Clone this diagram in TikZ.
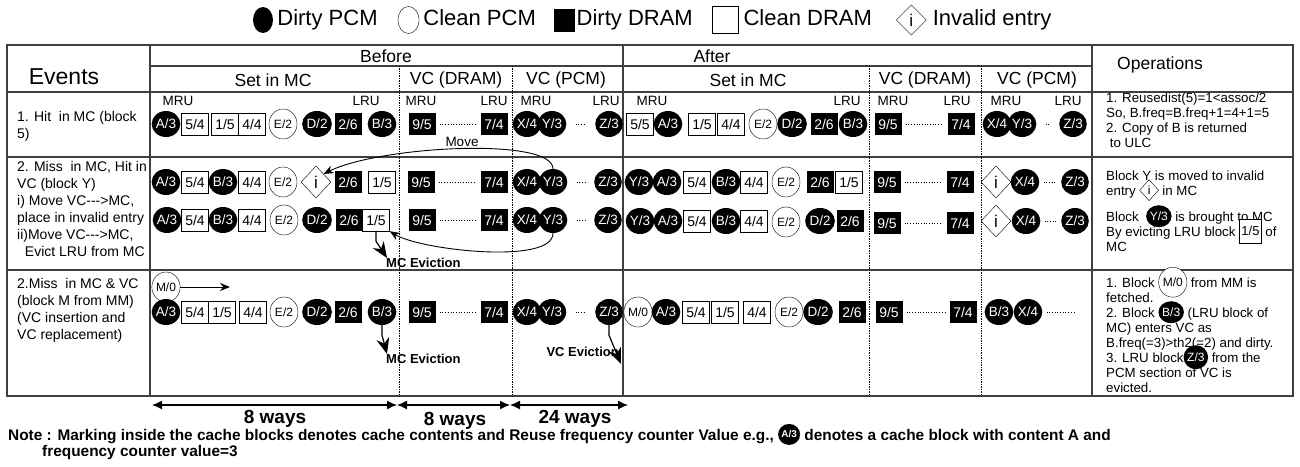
\documentclass[tikz,border=0pt]{standalone}
\usepackage{fontspec}
\setmainfont{Liberation Sans}
\usetikzlibrary{shapes.geometric, arrows.meta, positioning, calc}

\newcommand{\inl}[3]{\smash{\tikz[baseline=-0.8ex]\node[#1, anchor=center] (#2) {#3};}}

\begin{document}
\begin{tikzpicture}[x=1pt, y=-1pt,
        dpcm/.style={ellipse, fill=black, text=white, inner sep=0pt, minimum width=24pt, minimum height=26pt, font=\fontsize{13.5}{14}\selectfont},
        cpcm/.style={ellipse, draw, thin, fill=white, inner sep=0pt, minimum width=28pt, minimum height=30pt, font=\fontsize{12}{14}\selectfont},
        ddram/.style={rectangle, fill=black, text=white, inner sep=0pt, minimum width=27pt, minimum height=22pt, font=\fontsize{14}{16}\selectfont},
        cdram/.style={rectangle, draw, thin, fill=white, inner sep=0pt, minimum width=27pt, minimum height=22pt, font=\fontsize{14}{16}\selectfont},
        inval/.style={diamond, draw, thin, fill=white, inner sep=0pt, minimum width=30pt, minimum height=32pt, font=\fontsize{17}{18}\selectfont},
        legtxt/.style={inner sep=0pt, text height=15pt, text depth=4pt, font=\fontsize{22}{24}\selectfont},
        hdr/.style={inner sep=0pt, font=\fontsize{17.5}{20}\selectfont},
        ru/.style={inner sep=0pt, font=\fontsize{13.5}{15}\selectfont},
        evt/.style={anchor=north west, align=left, inner sep=0pt, font=\fontsize{14}{17}\selectfont},
        ops/.style={anchor=north west, align=left, inner sep=0pt, font=\fontsize{13.3}{15}\selectfont},
        evlab/.style={inner sep=0pt, font=\bfseries\fontsize{13}{15}\selectfont},
        waystxt/.style={inner sep=0pt, font=\bfseries\fontsize{19}{21}\selectfont},
        notetxt/.style={anchor=west, inner sep=0pt, font=\bfseries\fontsize{15.4}{16}\selectfont},
        tline/.style={line width=1.2pt, black!75},
        colsep/.style={densely dotted, line width=0.7pt},
        dots/.style={dotted, line width=0.7pt, shorten <=4pt, shorten >=4pt},
        arrow/.style={-{Stealth[length=10pt, width=8pt]}, line width=0.9pt},
        evict/.style={-{Stealth[length=16pt, width=13pt]}, line width=1.2pt},
        waysarrow/.style={{Latex[length=10pt, width=9pt]}-{Latex[length=10pt, width=9pt]}, line width=1.3pt}
    ]
        \useasboundingbox (0,0) rectangle (1300,466);

        % Legend
        \node[dpcm, minimum width=20pt, minimum height=26pt] (lgdp) at (263,20) {};
        \node[legtxt, right=4pt of lgdp] (lgdpt) {Dirty PCM};
        \node[cpcm, minimum width=21pt, minimum height=27pt, right=20pt of lgdpt] (lgcp) {};
        \node[legtxt, right=4pt of lgcp] (lgcpt) {Clean PCM};
        \node[ddram, minimum width=21pt, minimum height=23pt, right=18pt of lgcpt] (lgdd) {};
        \node[legtxt, right=1pt of lgdd] (lgddt) {Dirty DRAM};
        \node[cdram, minimum width=26pt, minimum height=27pt, right=19pt of lgddt] (lgcd) {};
        \node[legtxt, right=5pt of lgcd] (lgcdt) {Clean DRAM};
        \node[inval, minimum width=30pt, minimum height=30pt, right=24pt of lgcdt] (lginv) {i};
        \node[legtxt, right=6pt of lginv] (lginvt) {Invalid entry};

        % Table
        \draw[tline] (7,45) rectangle (1293,396);
        \draw[tline] (150,45) -- (150,396);
        \draw[tline] (623,45) -- (623,396);
        \draw[tline] (1092,45) -- (1092,396);
        \draw[tline] (150,66) -- (1092,66);
        \draw[tline] (7,92) -- (1293,92);
        \draw[tline] (7,157) -- (1293,157);
        \draw[tline] (7,270) -- (1293,270);
        \draw[colsep] (399,66) -- (399,396);
        \draw[colsep] (512,66) -- (512,396);
        \draw[colsep] (869,66) -- (869,396);
        \draw[colsep] (981,66) -- (981,396);

        % Headers
        \node[hdr, font=\fontsize{23}{24}\selectfont] (events) at (64,77) {Events};
        \node[hdr] (before) at (386,56) {Before};
        \node[hdr] (after) at (712,56) {After};
        \node[hdr] (opsh) at (1160,65) {Operations};
        \node[hdr] (bset) at (273,80) {Set in MC};
        \node[hdr] (bdram) at (456,80) {VC (DRAM)};
        \node[hdr] (bpcm) at (566,80) {VC (PCM)};
        \node[hdr] (aset) at (748,80) {Set in MC};
        \node[hdr] (adram) at (925,80) {VC (DRAM)};
        \node[hdr] (apcm) at (1037,80) {VC (PCM)};

        % Events
        \node[evt] (ev1) at (17,111) {1. Hit\ \ in MC (block\\5)};
        \node[evt] (ev2) at (17,161) {2. Miss\ \ in MC, Hit in\\VC (block Y)\\i) Move VC-{}-{}->MC,\\place in invalid entry\\ii)Move VC-{}-{}->MC,\\\ \ Evict LRU from MC};
        \node[evt] (ev3) at (17,278) {2.Miss\ \ in MC \& VC\\(block M from MM)\\(VC insertion and\\VC replacement)};

        % MRU / LRU
        \node[ru] (bmru1) at (178,101) {MRU};
        \node[ru] (blru1) at (366,101) {LRU};
        \node[ru] (bmru2) at (421,101) {MRU};
        \node[ru] (blru2) at (494,101) {LRU};
        \node[ru] (bmru3) at (536,101) {MRU};
        \node[ru] (blru3) at (606,101) {LRU};
        \node[ru] (amru1) at (652,101) {MRU};
        \node[ru] (alru1) at (847,101) {LRU};
        \node[ru] (amru2) at (893,101) {MRU};
        \node[ru] (alru2) at (957,101) {LRU};
        \node[ru] (amru3) at (1006,101) {MRU};
        \node[ru] (alru3) at (1068,101) {LRU};

        % Row 1, before
        \node[dpcm] (b1a) at (166,124) {A/3};
        \node[cdram] (b1b) at (195,124) {5/4};
        \node[cdram] (b1c) at (225,124) {1/5};
        \node[cdram] (b1d) at (252,124) {4/4};
        \node[cpcm] (b1e) at (283,124) {E/2};
        \node[dpcm] (b1f) at (317,124) {D/2};
        \node[ddram] (b1g) at (348,124) {2/6};
        \node[dpcm] (b1h) at (382,124) {B/3};
        \node[ddram] (b1i) at (422,124) {9/5};
        \node[ddram] (b1j) at (494,124) {7/4};
        \node[dpcm] (b1k) at (527,124) {X/4};
        \node[dpcm] (b1l) at (552,124) {Y/3};
        \node[dpcm] (b1m) at (609,124) {Z/3};

        % Row 1, after
        \node[cdram] (a1a) at (640,124) {5/5};
        \node[dpcm] (a1b) at (668,124) {A/3};
        \node[cdram] (a1c) at (702,124) {1/5};
        \node[cdram] (a1d) at (731,124) {4/4};
        \node[cpcm] (a1e) at (763,124) {E/2};
        \node[dpcm] (a1f) at (792,124) {D/2};
        \node[ddram] (a1g) at (824,124) {2/6};
        \node[dpcm] (a1h) at (853,124) {B/3};
        \node[ddram] (a1i) at (888,124) {9/5};
        \node[ddram] (a1j) at (961,124) {7/4};
        \node[dpcm] (a1k) at (997,124) {X/4};
        \node[dpcm] (a1l) at (1022,124) {Y/3};
        \node[dpcm] (a1m) at (1073,124) {Z/3};

        % Row 2, before
        \node[dpcm] (b2a) at (166,182) {A/3};
        \node[cdram] (b2b) at (195,182) {5/4};
        \node[dpcm] (b2c) at (223,182) {B/3};
        \node[cdram] (b2d) at (252,182) {4/4};
        \node[cpcm] (b2e) at (283,182) {E/2};
        \node[inval] (b2f) at (316,182) {i};
        \node[ddram] (b2g) at (348,182) {2/6};
        \node[cdram] (b2h) at (382,182) {1/5};
        \node[ddram] (b2i) at (421,182) {9/5};
        \node[ddram] (b2j) at (494,182) {7/4};
        \node[dpcm] (b2k) at (527,182) {X/4};
        \node[dpcm] (b2l) at (553,182) {Y/3};
        \node[dpcm] (b2m) at (608,182) {Z/3};

        \node[dpcm] (b3a) at (167,220) {A/3};
        \node[cdram] (b3b) at (195,220) {5/4};
        \node[dpcm] (b3c) at (223,220) {B/3};
        \node[cdram] (b3d) at (252,220) {4/4};
        \node[cpcm] (b3e) at (284,220) {E/2};
        \node[dpcm] (b3f) at (317,220) {D/2};
        \node[ddram] (b3g) at (349,220) {2/6};
        \node[cdram] (b3h) at (376,220) {1/5};
        \node[ddram] (b3i) at (422,220) {9/5};
        \node[ddram] (b3j) at (494,220) {7/4};
        \node[dpcm] (b3k) at (527,220) {X/4};
        \node[dpcm] (b3l) at (553,220) {Y/3};
        \node[dpcm] (b3m) at (608,220) {Z/3};

        % Row 2, after
        \node[dpcm] (a2a) at (639,182) {Y/3};
        \node[dpcm] (a2b) at (667,182) {A/3};
        \node[cdram] (a2c) at (697,182) {5/4};
        \node[dpcm] (a2d) at (726,182) {B/3};
        \node[cdram] (a2e) at (754,182) {4/4};
        \node[cpcm] (a2f) at (786,182) {E/2};
        \node[ddram] (a2g) at (820,182) {2/6};
        \node[cdram] (a2h) at (849,182) {1/5};
        \node[ddram] (a2i) at (887,182) {9/5};
        \node[ddram] (a2j) at (960,182) {7/4};
        \node[inval] (a2k) at (996,182) {i};
        \node[dpcm] (a2l) at (1025,182) {X/4};
        \node[dpcm] (a2m) at (1075,182) {Z/3};

        \node[dpcm] (a3a) at (640,221) {Y/3};
        \node[dpcm] (a3b) at (668,221) {A/3};
        \node[cdram] (a3c) at (697,221) {5/4};
        \node[dpcm] (a3d) at (726,221) {B/3};
        \node[cdram] (a3e) at (754,221) {4/4};
        \node[cpcm] (a3f) at (786,222) {E/2};
        \node[dpcm] (a3g) at (820,221) {D/2};
        \node[ddram] (a3h) at (850,221) {2/6};
        \node[ddram] (a3i) at (887,223) {9/5};
        \node[ddram] (a3j) at (960,223) {7/4};
        \node[inval] (a3k) at (996,221) {i};
        \node[dpcm] (a3l) at (1026,221) {X/4};
        \node[dpcm] (a3m) at (1075,221) {Z/3};

        % Row 3, before
        \node[cpcm] (b4o) at (166,287) {M/0};
        \coordinate (b4go) at (230,287);
        \node[dpcm] (b4a) at (166,312) {A/3};
        \node[cdram] (b4b) at (195,312) {5/4};
        \node[cdram] (b4c) at (222,312) {1/5};
        \node[cdram] (b4d) at (253,312) {4/4};
        \node[cpcm] (b4e) at (284,312) {E/2};
        \node[dpcm] (b4f) at (317,312) {D/2};
        \node[ddram] (b4g) at (348,312) {2/6};
        \node[dpcm] (b4h) at (382,312) {B/3};
        \node[ddram] (b4i) at (422,312) {9/5};
        \node[ddram] (b4j) at (494,312) {7/4};
        \node[dpcm] (b4k) at (527,312) {X/4};
        \node[dpcm] (b4l) at (552,312) {Y/3};
        \node[dpcm] (b4m) at (609,312) {Z/3};

        % Row 3, after
        \node[cpcm] (a4a) at (638,312) {M/0};
        \node[dpcm] (a4b) at (666,312) {A/3};
        \node[cdram] (a4c) at (696,312) {5/4};
        \node[cdram] (a4d) at (725,312) {1/5};
        \node[cdram] (a4e) at (757,312) {4/4};
        \node[cpcm] (a4f) at (789,312) {E/2};
        \node[dpcm] (a4g) at (818,312) {D/2};
        \node[ddram] (a4h) at (852,312) {2/6};
        \node[ddram] (a4i) at (889,312) {9/5};
        \node[ddram] (a4j) at (963,312) {7/4};
        \node[dpcm] (a4k) at (999,312) {B/3};
        \node[dpcm] (a4l) at (1028,312) {X/4};
        \coordinate (a4end) at (1076,312);

        % Dotted gaps
        \draw[dots] (b1i) -- (b1j);
        \draw[dots, shorten <=9pt, shorten >=9pt] (b1l) -- (b1m);
        \draw[dots] (a1i) -- (a1j);
        \draw[dots, shorten <=9pt, shorten >=9pt] (a1l) -- (a1m);
        \draw[dots] (b2i) -- (b2j);
        \draw[dots, shorten <=9pt, shorten >=9pt] (b2l) -- (b2m);
        \draw[dots] (b3i) -- (b3j);
        \draw[dots, shorten <=9pt, shorten >=9pt] (b3l) -- (b3m);
        \draw[dots] (a2i) -- (a2j);
        \draw[dots] (a2l) -- (a2m);
        \draw[dots] (a3i) -- (a3j);
        \draw[dots] (a3l) -- (a3m);
        \draw[dots] (b4i) -- (b4j);
        \draw[dots, shorten <=9pt, shorten >=9pt] (b4l) -- (b4m);
        \draw[dots] (a4i) -- (a4j);
        \draw[dots, shorten >=0pt] (a4l) -- (a4end);

        % Arrows
        \node[ru] (move) at (462,142) {Move};
        \draw[arrow] (b2l.north) .. controls +(0,-32) and (380,146) .. (b2f.north east);
        \draw[arrow] (b3l.south) .. controls +(0,32) and (420,250) .. (b3h.south east);
        \draw[arrow] (b4o) -- (b4go);

        \node[evlab, anchor=west] (evmc1) at (386,263) {MC Eviction};
        \draw[evict] (b3h.south) -- ++(0,10) -- ([xshift=1pt]evmc1.north west);
        \node[evlab, anchor=west] (evmc2) at (386,359) {MC Eviction};
        \draw[evict] (b4h.south) -- ++(0,10) -- ([xshift=1pt]evmc2.north west);
        \node[evlab, anchor=east] (evvc) at (619,352) {VC Eviction};
        \draw[evict] (b4m.south) -- ++(0,10) -- ($(evvc.south east)+(2,7)$);

        % Operations
        \node[ops] (op1) at (1106,93) {1. Reusedist(5)=1<assoc/2\\So, B.freq=B.freq+1=4+1=5\\2. Copy of B is returned\\\ to ULC};
        \node[ops] (op2) at (1106,171) {Block Y is moved to invalid\\entry \inl{inval, minimum width=19pt, minimum height=21pt, font=\fontsize{12}{13}\selectfont}{opinv}{i} in MC};
        \node[ops] (op3) at (1106,212) {Block \ \inl{dpcm, minimum width=22pt, minimum height=22pt, font=\fontsize{12}{13}\selectfont}{opy}{Y/3} is brought to MC\\By evicting LRU block \inl{cdram, minimum width=22pt, minimum height=24pt, font=\fontsize{13}{14}\selectfont}{op15}{1/5} of\\MC};
        \node[ops] (op4) at (1106,278) {1. Block \inl{cpcm, minimum width=24pt, minimum height=30pt}{opm}{M/0}\ from MM is\\fetched.\\2. Block \inl{dpcm, minimum width=22pt, minimum height=22pt, font=\fontsize{12}{13}\selectfont}{opb}{B/3} (LRU block of\\MC) enters VC as\\B.freq(=3)>th2(=2) and dirty.\\3. LRU block\inl{dpcm, minimum width=22pt, minimum height=24pt, font=\fontsize{12}{13}\selectfont}{opz}{Z/3} from the\\PCM section of VC is\\evicted.};

        % Ways
        \coordinate (w0) at (152,405);
        \coordinate (w1) at (397,405);
        \coordinate (w2) at (510,405);
        \coordinate (w3) at (628,405);
        \draw[waysarrow] (w0) -- (w1);
        \draw[waysarrow] (w1) -- (w2);
        \draw[waysarrow] (w2) -- (w3);
        \node[waystxt] (wt1) at (275,419) {8 ways};
        \node[waystxt] (wt2) at (455,421) {8 ways};
        \node[waystxt] (wt3) at (575,419) {24 ways};

        % Note
        \node[notetxt] (note1) at (8,437) {Note : Marking inside the cache blocks denotes cache contents and Reuse frequency counter Value e.g., \inl{dpcm, minimum width=18pt, minimum height=21pt, font=\fontsize{10}{11}\selectfont}{noteA}{A/3} denotes a cache block with content A and};
        \node[notetxt] (note2) at (42,453) {frequency counter value=3};
\end{tikzpicture}
\end{document}
